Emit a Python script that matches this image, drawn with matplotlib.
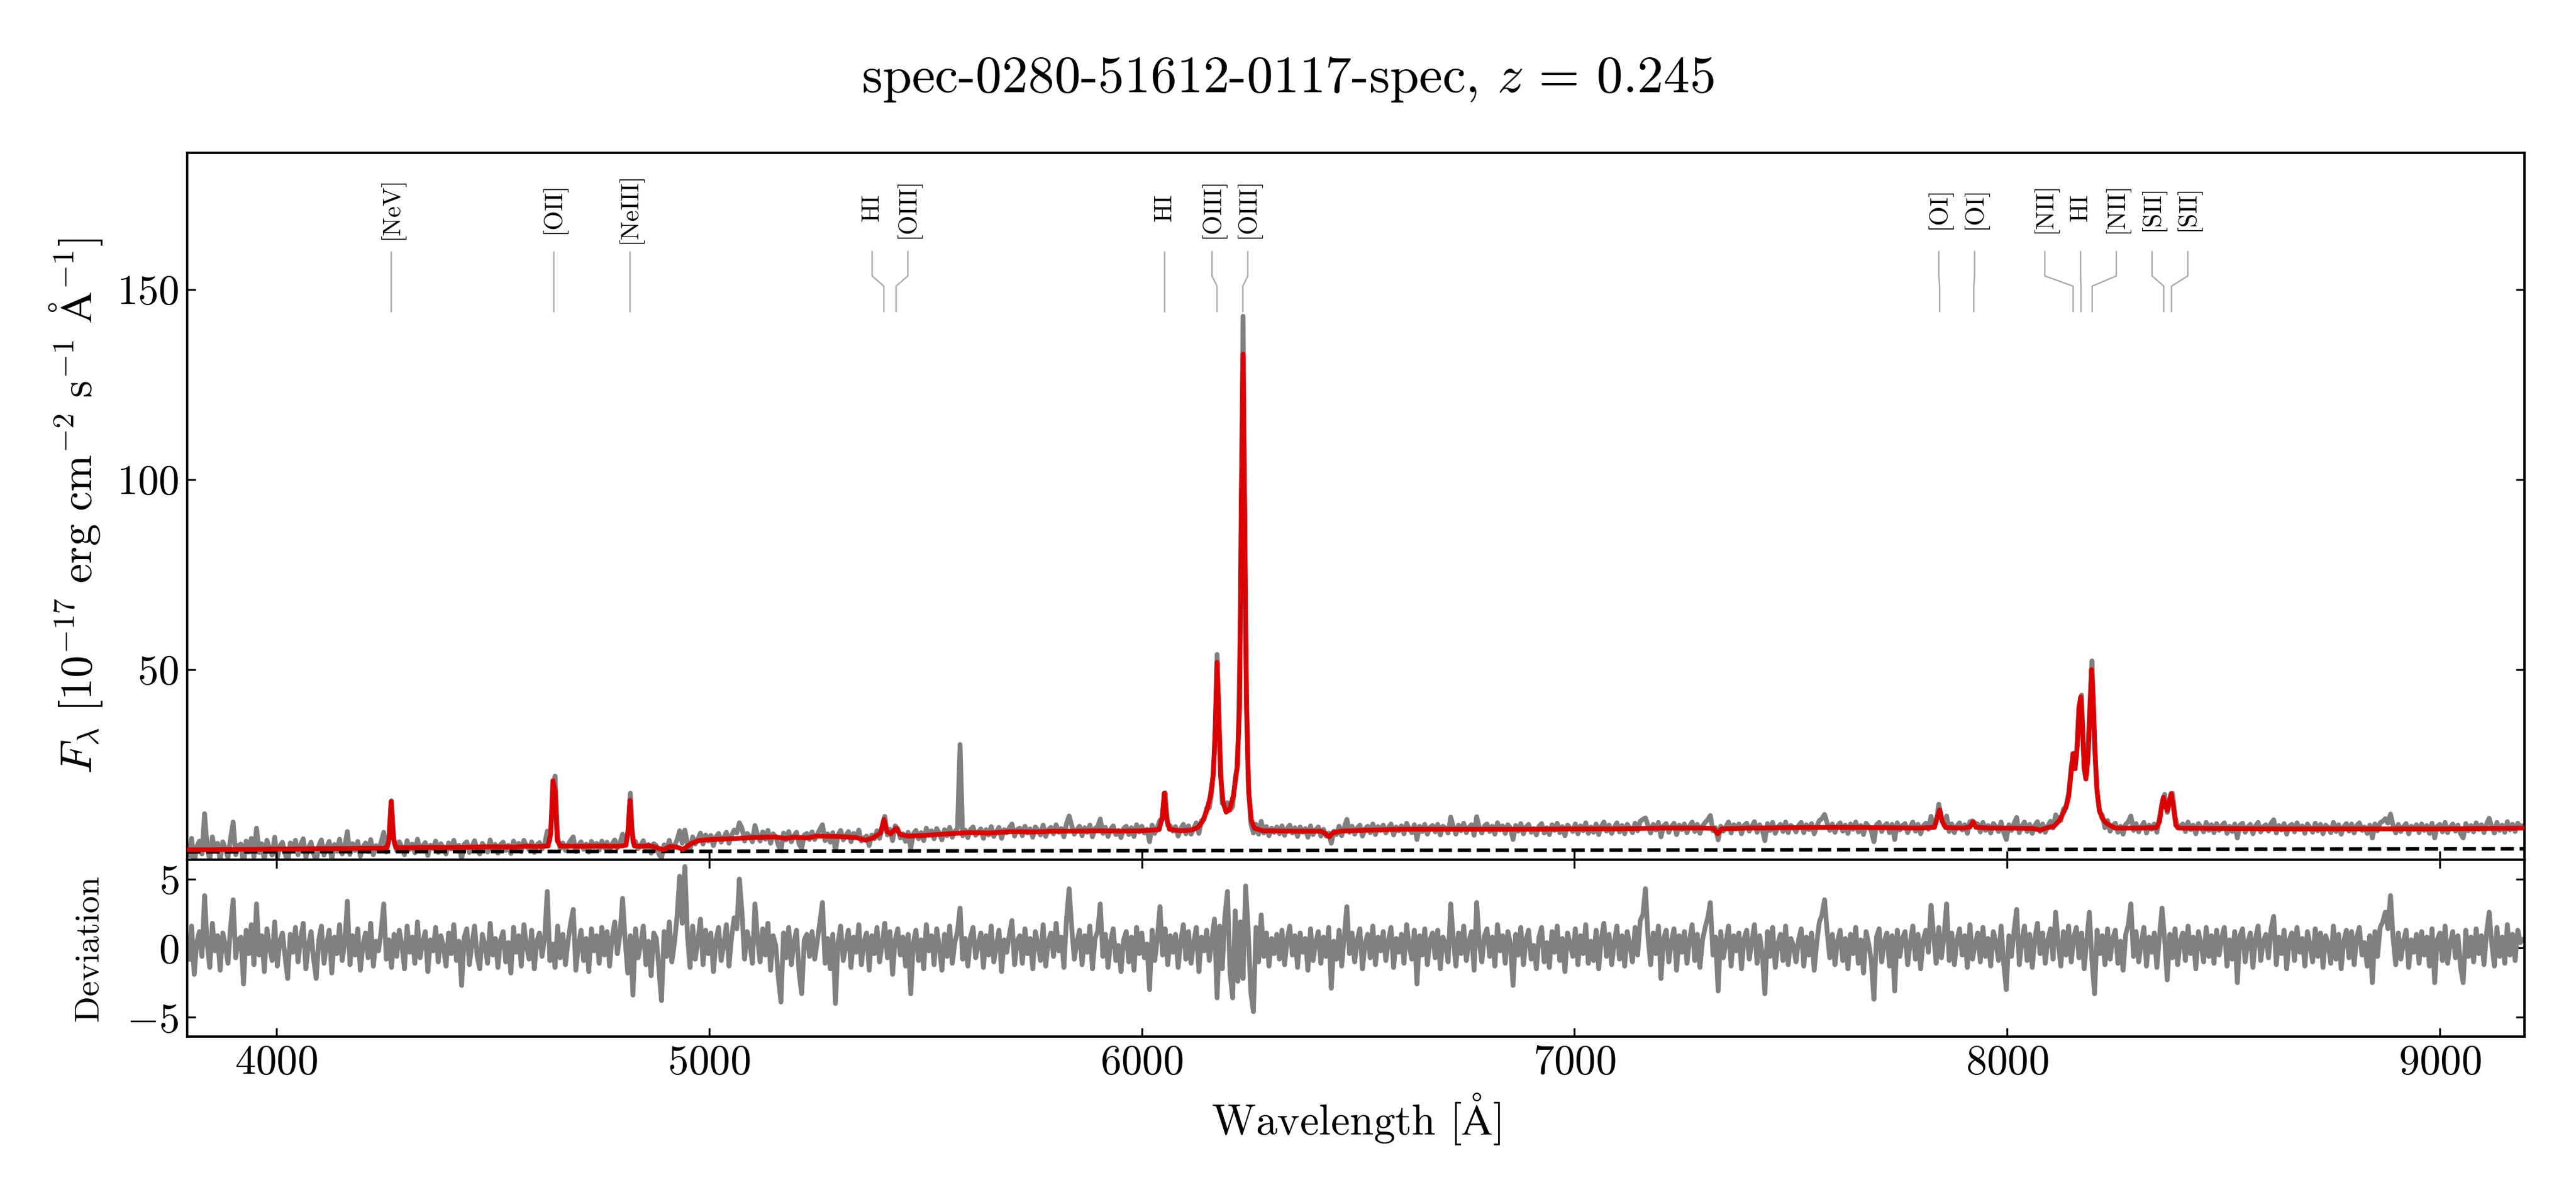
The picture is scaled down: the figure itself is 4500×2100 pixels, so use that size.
import numpy as np
import matplotlib
matplotlib.use("Agg")
import matplotlib.pyplot as plt

# ------------------------------------------------------------------ data
spec_name = "spec-0280-51612-0117-spec"
redshift = 0.245

# observed-frame wavelength grid of the binned spectrum [Angstrom]
wave_first, wave_last, wave_step = 3798, 9192, 6

# observed flux (grey), one row = 20 samples = 120 A
flux = [
    1.1, 5.6, -1.0, 3.4, 4.9, 1.5, 12.1, 3.2, -0.1, 6.0, 2.2, 4.3, -0.4, 4.7, 3.0, 0.5, 5.5, 9.9, 1.3, 3.7,
    4.1, -1.7, 4.9, 2.0, 5.6, 0.7, 8.3, 1.9, 4.2, -0.2, 5.1, 2.9, 1.2, 5.9, 0.5, 3.5, 4.6, 1.7, -1.0, 4.4,
    2.4, 5.1, 1.3, 3.9, 5.5, 0.6, 3.1, 4.6, 1.6, -0.5, 3.7, 5.2, 1.2, 3.3, 4.8, 0.1, 4.0, 2.2, 5.4, 1.5,
    3.5, 7.4, 1.4, 4.2, 2.4, 4.8, 0.9, 3.3, 4.4, 2.1, 5.3, 1.3, 3.7, 2.7, 4.6, 7.2, 2.0, 5.6, 15.5, 4.5,
    2.4, 4.7, 3.3, 1.3, 5.0, 2.7, 4.1, 1.8, 5.4, 2.3, 3.6, 4.5, 1.1, 3.8, 2.9, 4.9, 1.9, 4.2, 3.2, 1.5,
    4.4, 2.8, 5.1, 2.2, 3.8, 0.2, 4.1, 4.7, 1.9, 3.5, 5.0, 2.5, 1.5, 4.3, 3.4, 2.0, 5.2, 2.7, 4.0, 1.7,
    4.0, 4.6, 2.4, 3.8, 1.6, 4.9, 3.1, 4.3, 2.1, 5.1, 3.5, 2.6, 4.7, 1.9, 3.9, 4.5, 2.8, 4.2, 7.5, 5.0,
    13.0, 22.0, 6.0, 2.9, 4.4, 2.4, 4.0, 5.1, 6.0, 2.1, 3.7, 4.7, 2.7, 4.1, 2.0, 4.8, 3.3, 4.3, 2.5, 4.9,
    3.1, 4.6, 2.3, 4.2, 5.2, 3.1, 4.4, 6.7, 4.0, 6.5, 17.5, 4.5, 4.8, 2.9, 3.8, 5.0, 2.4, 4.0, 1.7, 4.2,
    3.7, 1.5, 0.3, 3.9, 2.8, 5.1, 2.5, 3.7, 5.2, 7.6, 4.3, 7.8, 4.2, 2.7, 6.0, 4.1, 5.4, 7.0, 4.1, 6.5,
    4.9, 6.4, 3.7, 6.0, 6.9, 4.6, 5.8, 7.2, 4.3, 6.4, 7.8, 7.0, 9.7, 8.3, 4.9, 6.9, 6.2, 4.7, 9.0, 6.5,
    4.9, 7.3, 5.4, 7.7, 4.3, 6.8, 6.1, 3.8, 2.3, 7.0, 5.2, 7.4, 4.7, 6.3, 7.2, 4.1, 2.9, 6.5, 6.9, 5.3,
    7.3, 5.3, 6.6, 8.0, 9.2, 5.0, 6.8, 4.6, 7.1, 2.4, 6.5, 7.7, 5.2, 6.3, 7.4, 4.7, 6.9, 5.8, 7.8, 4.9,
    5.7, 6.2, 3.7, 6.5, 5.5, 7.6, 5.6, 8.3, 11.4, 6.5, 8.0, 5.0, 8.9, 8.2, 5.7, 6.8, 4.8, 7.2, 3.0, 6.8,
    7.7, 5.5, 7.1, 5.0, 8.3, 6.4, 7.6, 5.5, 8.2, 6.9, 5.2, 7.9, 6.3, 8.5, 5.9, 7.4, 8.2, 30.3, 6.3, 7.8,
    5.8, 7.9, 8.6, 6.4, 7.3, 8.1, 5.6, 7.9, 6.5, 8.7, 6.1, 7.4, 8.5, 5.6, 7.9, 7.1, 8.4, 9.4, 6.2, 7.9,
    8.3, 6.3, 8.8, 7.0, 8.1, 5.9, 8.6, 7.7, 6.5, 9.1, 6.1, 7.9, 8.5, 6.8, 9.2, 7.2, 8.2, 6.0, 9.5, 11.5,
    9.0, 6.7, 7.9, 8.8, 6.3, 8.4, 7.2, 9.1, 6.0, 8.2, 8.7, 10.7, 6.9, 8.5, 6.1, 8.0, 8.9, 6.6, 7.7, 5.8,
    8.2, 8.8, 6.6, 8.4, 6.1, 9.2, 7.3, 8.8, 7.0, 8.0, 4.7, 9.1, 6.9, 8.5, 10.4, 10.6, 17.6, 9.0, 8.9, 7.5,
    8.7, 6.2, 8.1, 9.3, 6.8, 8.9, 6.7, 8.2, 9.7, 6.9, 10.3, 10.6, 13.6, 13.6, 18.0, 28.0, 54.0, 31.5, 14.8, 14.5,
    15.0, 13.0, 14.0, 21.5, 25.0, 64.0, 143.0, 58.0, 20.0, 9.5, 7.0, 9.3, 6.7, 10.1, 7.0, 8.7, 6.3, 8.3, 7.2, 8.6,
    6.8, 8.9, 6.4, 8.2, 9.1, 7.0, 8.4, 6.1, 8.6, 7.2, 8.2, 5.9, 8.9, 6.6, 7.9, 8.6, 6.2, 8.0, 6.2, 7.0,
    4.3, 7.5, 6.6, 8.8, 6.3, 8.5, 10.6, 7.2, 8.8, 6.7, 8.3, 9.1, 6.2, 8.1, 8.8, 7.1, 9.4, 6.6, 8.7, 7.7,
    9.1, 7.0, 8.4, 9.4, 6.5, 8.6, 7.6, 8.9, 6.8, 9.6, 8.1, 7.1, 9.2, 5.3, 8.8, 7.4, 9.3, 6.7, 8.5, 9.0,
    7.3, 9.3, 6.5, 8.8, 8.3, 7.0, 11.2, 8.6, 6.7, 9.1, 7.6, 9.6, 7.1, 8.5, 9.2, 6.4, 11.3, 8.4, 7.0, 8.9,
    9.4, 7.4, 8.8, 6.7, 9.7, 7.8, 8.9, 6.9, 9.2, 8.3, 5.3, 9.0, 7.5, 9.5, 6.8, 8.6, 9.3, 7.2, 8.2, 6.5,
    8.8, 9.5, 7.0, 8.4, 6.6, 9.2, 7.7, 9.6, 7.1, 8.7, 6.3, 9.1, 8.3, 7.4, 9.4, 6.8, 8.9, 7.6, 9.7, 6.9,
    8.6, 7.2, 9.4, 6.6, 8.8, 9.9, 7.5, 9.1, 6.9, 8.5, 9.7, 7.3, 9.0, 6.8, 9.3, 8.3, 7.1, 9.6, 7.6, 10.1,
    10.6, 11.0, 9.0, 7.0, 9.3, 7.8, 9.8, 6.0, 8.9, 9.5, 7.2, 8.7, 9.6, 6.6, 9.1, 7.9, 9.4, 7.1, 8.8, 9.9,
    7.4, 9.3, 6.9, 8.9, 9.8, 10.5, 11.6, 7.6, 8.4, 5.2, 8.8, 7.5, 8.7, 9.9, 7.0, 9.2, 8.1, 9.4, 6.8, 9.0,
    9.6, 7.5, 8.8, 10.0, 7.2, 9.2, 7.9, 5.0, 9.5, 7.7, 9.8, 6.9, 8.6, 9.3, 7.4, 9.9, 7.1, 9.0, 8.5, 7.3,
    9.0, 9.8, 7.1, 9.2, 7.9, 9.5, 6.8, 8.8, 10.3, 10.8, 11.9, 9.6, 7.7, 9.4, 7.2, 8.9, 9.7, 7.5, 9.1, 6.9,
    9.4, 8.0, 9.9, 7.3, 9.0, 6.6, 9.6, 8.7, 7.5, 4.7, 9.2, 9.8, 7.4, 8.9, 9.5, 7.1, 9.3, 5.3, 9.7, 7.8,
    9.0, 9.5, 7.1, 8.7, 9.9, 7.5, 9.3, 6.8, 8.9, 9.6, 8.0, 11.4, 9.2, 9.8, 14.6, 11.2, 9.1, 11.5, 7.4, 9.4,
    7.1, 8.9, 9.7, 7.8, 9.2, 6.9, 10.0, 10.2, 9.6, 9.4, 7.3, 9.8, 7.7, 9.0, 7.0, 9.5, 8.7, 7.4, 9.9, 7.2,
    5.3, 9.2, 7.7, 9.6, 11.1, 7.1, 8.8, 9.9, 7.4, 9.3, 6.9, 9.0, 10.0, 7.4, 9.4, 7.2, 8.9, 10.1, 8.3, 11.8,
    10.8, 10.3, 13.3, 14.0, 17.5, 24.5, 28.0, 27.0, 40.0, 43.3, 24.0, 22.5, 38.0, 52.3, 31.0, 17.5, 12.5, 11.7, 8.4, 10.3,
    7.5, 9.0, 9.6, 7.2, 8.8, 6.7, 9.3, 10.0, 11.5, 7.7, 9.5, 7.3, 8.7, 9.8, 7.0, 9.1, 8.0, 9.4, 7.2, 11.0,
    14.8, 17.2, 12.4, 15.5, 17.5, 11.5, 8.3, 8.8, 9.4, 7.4, 9.9, 7.9, 9.1, 6.8, 9.5, 8.6, 7.3, 9.8, 7.7, 9.2,
    7.1, 9.5, 7.7, 9.0, 9.7, 6.9, 8.8, 7.4, 9.4, 5.7, 9.1, 9.6, 7.2, 8.6, 9.3, 6.8, 8.9, 9.8, 7.3, 8.7,
    9.2, 7.5, 9.6, 10.5, 7.0, 9.0, 7.8, 9.5, 6.7, 8.8, 9.3, 7.3, 9.7, 7.9, 8.9, 6.9, 9.4, 8.4, 7.2, 9.6,
    7.6, 9.3, 6.8, 9.1, 8.5, 7.1, 9.8, 7.4, 9.2, 6.7, 8.7, 9.5, 7.5, 9.4, 7.0, 9.0, 9.7, 7.7, 8.6, 6.9,
    9.1, 5.7, 9.4, 7.6, 9.7, 10.1, 10.8, 9.6, 12.0, 8.9, 7.0, 9.3, 7.4, 8.7, 9.5, 6.8, 8.8, 7.9, 9.2, 7.1,
    9.4, 7.7, 9.0, 6.9, 9.6, 5.7, 8.8, 9.3, 7.3, 9.8, 7.1, 8.6, 9.4, 7.5, 9.1, 6.8, 5.7, 9.5, 7.6, 9.0,
    7.3, 9.7, 7.9, 9.2, 7.1, 9.4, 10.9, 8.6, 7.0, 9.8, 7.7, 9.1, 7.2, 10.0, 7.8, 9.3, 7.4, 9.6, 8.7, 8.9,
]

# normalised deviation (data - model) / error on the same grid
deviation = [
    -0.8, 1.6, -1.9, 0.4, 1.2, -0.6, 3.8, 0.3, -1.4, 1.8, -0.2, 0.9, -1.6, 1.1, 0.2, -1.1, 1.5, 3.5, -0.7, 0.6,
    0.8, -2.6, 1.3, -0.4, 1.7, -1.2, 3.2, -0.5, 0.9, -1.7, 1.4, 0.1, -0.9, 1.9, -1.3, 0.5, 1.1, -0.6, -2.2, 1.0,
    -0.3, 1.5, -1.0, 0.7, 1.8, -1.5, 0.2, 1.2, -0.8, -2.2, 0.6, 1.6, -1.1, 0.3, 1.3, -1.8, 0.8, -0.4, 1.7, -0.9,
    0.4, 3.4, -1.2, 0.9, -0.5, 1.4, -1.6, 0.2, 1.1, -0.7, 1.8, -1.3, 0.5, -0.2, 1.2, 3.2, -0.8, 0.6, -1.4, 1.0,
    -0.6, 1.3, 0.2, -1.5, 1.6, -0.3, 0.8, -1.1, 1.9, -0.7, 0.4, 1.2, -1.7, 0.6, -0.2, 1.5, -1.0, 0.9, 0.1, -1.3,
    1.1, -0.4, 1.7, -0.9, 0.5, -2.7, 0.8, 1.4, -1.2, 0.3, 1.6, -0.6, -1.5, 1.0, 0.2, -1.1, 1.8, -0.5, 0.7, -1.4,
    0.6, 1.2, -1.0, 0.4, -1.8, 1.5, -0.3, 0.9, -1.3, 1.7, 0.1, -0.8, 1.3, -1.5, 0.5, 1.1, -0.6, 0.8, 4.1, -0.9,
    0.3, -1.4, 1.6, -0.7, 1.0, -1.2, 0.5, 1.8, 2.8, -1.6, 0.2, 1.3, -0.9, 0.7, -1.7, 1.4, -0.2, 0.9, -1.1, 1.5,
    -0.5, 1.2, -1.3, 0.8, 1.9, -0.4, 1.0, 3.6, 0.6, -1.8, 0.9, -3.4, 1.4, -0.7, 0.3, 1.6, -1.2, 0.5, -2.0, 1.1,
    0.7, -1.5, -3.8, 1.2, -0.6, 1.9, -1.0, 0.4, 2.3, 5.2, 1.8, 5.9, 0.9, -1.4, 1.6, -0.8, 0.5, 2.1, -1.2, 1.3,
    -0.4, 1.1, -1.7, 0.6, 1.5, -0.9, 0.3, 1.7, -1.3, 0.8, 2.2, 1.4, 5.0, 2.6, -0.8, 1.2, 0.4, -1.1, 3.2, 0.7,
    -1.0, 1.4, -0.5, 1.8, -1.6, 0.9, 0.2, -2.1, -3.9, 1.1, -0.7, 1.5, -1.2, 0.4, 1.3, -1.8, -3.3, 0.6, 1.0, -0.6,
    1.2, -0.8, 0.5, 1.9, 3.3, -1.1, 0.7, -1.5, 1.0, -4.0, 0.4, 1.6, -0.9, 0.2, 1.3, -1.4, 0.8, -0.3, 1.7, -1.2,
    0.5, 1.1, -1.6, 0.9, -0.4, 1.5, -1.0, 0.3, 1.8, -0.7, 1.2, -1.9, 0.6, 1.4, -0.5, 0.8, -1.3, 1.0, -3.3, 0.4,
    1.3, -0.9, 0.6, -1.5, 1.7, -0.2, 0.9, -1.2, 1.4, 0.1, -1.6, 1.0, -0.6, 1.6, -1.1, 0.4, 1.2, 2.9, -0.8, 0.7,
    -1.3, 0.8, 1.5, -0.7, 0.3, 1.1, -1.4, 0.9, -0.5, 1.6, -1.0, 0.2, 1.3, -1.7, 0.6, -0.3, 1.0, 2.0, -1.2, 0.5,
    0.9, -1.1, 1.4, -0.4, 0.7, -1.5, 1.2, 0.3, -0.9, 1.7, -1.3, 0.5, 1.1, -0.6, 1.8, -0.2, 0.8, -1.4, 2.1, 4.3,
    1.5, -0.8, 0.4, 1.3, -1.2, 0.9, -0.3, 1.6, -1.5, 0.7, 1.2, 3.2, -0.6, 1.0, -1.4, 0.5, 1.4, -0.9, 0.2, -1.7,
    0.6, 1.2, -1.0, 0.8, -1.6, 1.5, -0.4, 1.1, -0.7, 0.3, -3.0, 1.3, -0.9, 0.7, 3.0, -0.5, 1.4, -1.2, 0.9, -0.3,
    1.0, -1.4, 0.5, 1.7, -0.8, 1.2, -1.1, 0.4, 1.5, -1.7, 0.8, -0.2, 1.3, -0.9, 0.6, 2.1, -3.6, 1.6, -1.5, 2.3,
    4.1, -1.8, -3.6, 2.7, -2.4, 1.9, -2.2, 4.5, 1.2, -3.2, -4.6, 1.5, -1.0, 2.4, -0.6, 1.1, -1.3, 0.7, -0.4, 1.0,
    -0.8, 1.3, -1.2, 0.6, 1.6, -0.5, 0.9, -1.4, 1.1, -0.3, 0.7, -1.6, 1.4, -0.9, 0.4, 1.2, -1.1, 0.8, -0.6, 1.5,
    -2.9, 0.5, -0.8, 1.3, -1.3, 0.9, 3.0, -0.4, 1.1, -1.0, 0.6, 1.4, -1.5, 0.3, 1.0, -0.7, 1.6, -1.2, 0.8, -0.2,
    1.2, -0.9, 0.5, 1.5, -1.4, 0.7, -0.3, 1.0, -1.1, 1.7, 0.2, -0.8, 1.3, -2.6, 0.9, -0.5, 1.4, -1.2, 0.6, 1.1,
    -0.7, 1.3, -1.5, 0.8, 0.3, -1.0, 3.2, 0.6, -1.3, 1.1, -0.4, 1.6, -0.9, 0.5, 1.2, -1.6, 3.3, 0.4, -1.0, 0.9,
    1.4, -0.6, 0.8, -1.3, 1.7, -0.2, 0.9, -1.1, 1.2, 0.3, -2.7, 1.0, -0.5, 1.5, -1.2, 0.6, 1.3, -0.8, 0.2, -1.5,
    0.8, 1.5, -1.0, 0.4, -1.4, 1.2, -0.3, 1.6, -0.9, 0.7, -1.7, 1.1, 0.3, -0.6, 1.4, -1.2, 0.9, -0.4, 1.7, -1.1,
    0.5, -0.9, 1.3, -1.5, 0.7, 1.8, -0.6, 1.0, -1.2, 0.4, 1.6, -0.8, 0.9, -1.3, 1.2, 0.2, -1.0, 1.5, -0.5, 2.0,
    2.4, 4.3, 0.8, -1.2, 1.1, -0.4, 1.6, -2.2, 0.7, 1.3, -1.0, 0.5, 1.4, -1.6, 0.9, -0.3, 1.2, -1.1, 0.6, 1.7,
    -0.9, 1.0, -1.4, 0.6, 1.5, 2.2, 3.3, -0.5, 0.8, -3.1, 1.2, -0.7, 0.4, 1.6, -1.3, 0.9, -0.2, 1.1, -1.5, 0.7,
    1.3, -0.8, 0.5, 1.7, -1.1, 0.9, -0.4, -3.3, 1.2, -0.6, 1.5, -1.4, 0.3, 1.0, -0.9, 1.6, -1.2, 0.7, 0.2, -1.0,
    0.6, 1.4, -1.3, 0.8, -0.5, 1.1, -1.6, 0.4, 1.9, 2.4, 3.5, 1.2, -0.7, 1.0, -1.2, 0.5, 1.3, -0.9, 0.7, -1.5,
    1.0, -0.4, 1.5, -1.1, 0.6, -1.8, 1.2, 0.3, -0.9, -3.7, 0.8, 1.4, -1.0, 0.5, 1.1, -1.3, 0.9, -3.1, 1.3, -0.6,
    0.7, 1.2, -1.2, 0.4, 1.6, -0.8, 1.0, -1.5, 0.6, 1.3, -0.3, 3.1, 0.9, -1.1, 1.5, -0.7, 0.8, 3.2, -0.9, 1.1,
    -1.2, 0.6, 1.4, -0.5, 0.9, -1.4, 1.7, -0.8, 0.3, 1.1, -1.0, 1.5, -0.6, 0.7, -1.3, 1.2, 0.4, -0.9, 1.6, -1.1,
    -3.0, 0.9, -0.6, 1.3, 2.8, -1.2, 0.5, 1.6, -0.9, 1.0, -1.4, 0.7, 1.8, -0.4, 1.1, -1.1, 0.6, 1.4, -0.8, 2.6,
    0.4, -1.3, 1.2, -0.5, 1.6, -1.0, 0.8, 1.5, -0.7, 1.1, -1.5, 0.6, 2.6, -0.9, -3.3, 1.3, -0.4, 0.9, -1.2, 1.4,
    -0.8, 0.7, 1.3, -1.1, 0.5, -1.6, 1.0, 1.7, 3.2, -0.6, 1.2, -1.0, 0.4, 1.5, -1.3, 0.8, -0.3, 1.1, -1.4, 0.9,
    2.9, 0.6, -2.3, 1.0, -0.7, 1.4, -1.2, 0.5, 1.1, -0.9, 1.6, -0.4, 0.8, -1.5, 1.2, 0.3, -1.0, 1.5, -0.6, 0.9,
    -1.1, 1.3, -0.5, 0.8, 1.5, -1.3, 0.6, -0.8, 1.2, -2.5, 0.9, 1.4, -1.0, 0.4, 1.1, -1.4, 0.7, 1.6, -0.9, 0.5,
    1.0, -0.7, 1.4, 2.3, -1.2, 0.8, -0.4, 1.3, -1.5, 0.6, 1.1, -0.9, 1.5, -0.3, 0.7, -1.3, 1.2, 0.2, -1.0, 1.4,
    -0.6, 1.1, -1.4, 0.9, 0.3, -1.1, 1.6, -0.8, 1.0, -1.5, 0.5, 1.3, -0.7, 1.2, -1.2, 0.8, 1.5, -0.5, 0.4, -1.3,
    0.9, -2.5, 1.2, -0.6, 1.5, 1.9, 2.6, 1.4, 3.8, 0.7, -1.2, 1.1, -0.8, 0.5, 1.3, -1.4, 0.6, -0.3, 1.0, -1.1,
    1.2, -0.5, 0.8, -1.3, 1.4, -2.5, 0.6, 1.1, -0.9, 1.6, -1.1, 0.4, 1.2, -0.7, 0.9, -1.4, -2.5, 1.3, -0.6, 0.8,
    -1.0, 1.4, -0.4, 0.9, -1.2, 1.1, 2.6, 0.3, -1.3, 1.5, -0.6, 0.8, -1.1, 1.7, -0.5, 1.0, -0.9, 1.3, 0.4, 0.6,
]

# best-fit model (red), sampled at the wavelengths below
model_wave = [
    3794, 3850, 3900, 3950, 4000, 4050, 4100, 4150, 4200, 4240, 4255, 4260, 4265, 4270, 4276,
    4300, 4350, 4400, 4450, 4500, 4550, 4580, 4600, 4628, 4634, 4639, 4644, 4649, 4656, 4700,
    4750, 4790, 4808, 4813, 4817, 4821, 4827, 4845, 4862, 4880, 4895, 4910, 4925, 4940, 4958,
    4975, 5000, 5050, 5100, 5150, 5175, 5200, 5225, 5250, 5300, 5340, 5362, 5380, 5396, 5404,
    5411, 5420, 5432, 5442, 5460, 5500, 5550, 5600, 5650, 5700, 5750, 5800, 5850, 5900, 5950,
    6000, 6040, 6047, 6052, 6057, 6064, 6090, 6115, 6130, 6140, 6150, 6158, 6165, 6170, 6174,
    6178, 6182, 6188, 6195, 6203, 6212, 6220, 6226, 6230, 6234, 6238, 6242, 6247, 6253, 6260,
    6280, 6350, 6415, 6425, 6433, 6442, 6460, 6500, 6600, 6700, 6800, 6900, 7000, 7100, 7200,
    7300, 7322, 7331, 7340, 7400, 7500, 7600, 7700, 7800, 7832, 7838, 7844, 7850, 7858, 7900,
    7914, 7921, 7928, 7960, 8000, 8060, 8076, 8090, 8108, 8120, 8128, 8136, 8142, 8147, 8152,
    8157, 8162, 8166, 8170, 8174, 8178, 8182, 8187, 8191, 8195, 8199, 8203, 8207, 8213, 8220,
    8229, 8249, 8300, 8345, 8352, 8357, 8361, 8366, 8370, 8374, 8379, 8384, 8390, 8397, 8500,
    8600, 8700, 8800, 8900, 9000, 9100, 9195,
]
model_flux = [
    2.6, 2.6, 2.7, 2.7, 2.8, 2.8, 2.9, 2.9, 3.0, 3.0, 3.1, 5.0, 15.3, 6.0, 3.2,
    3.1, 3.2, 3.2, 3.3, 3.4, 3.3, 3.6, 3.4, 3.6, 7.0, 20.8, 18.0, 5.0, 3.6, 3.5,
    3.6, 3.5, 3.8, 8.0, 15.6, 8.0, 3.6, 3.5, 3.7, 3.1, 2.6, 3.5, 3.3, 2.7, 4.2,
    5.0, 5.3, 5.5, 5.8, 6.0, 5.6, 5.9, 5.7, 6.2, 6.1, 5.8, 5.1, 5.8, 7.0, 10.6,
    7.4, 6.8, 8.3, 6.6, 6.2, 6.4, 6.8, 7.1, 7.0, 7.4, 7.3, 7.5, 7.5, 7.6, 7.5,
    7.6, 7.9, 11.0, 17.5, 11.0, 8.0, 7.6, 7.8, 8.5, 10.0, 12.8, 16.5, 22.0, 35.0, 51.9,
    38.0, 22.0, 15.0, 12.5, 13.2, 17.0, 24.0, 40.0, 95.0, 133.0, 90.0, 40.0, 18.0, 10.5, 8.3,
    7.6, 7.5, 7.5, 6.8, 6.0, 7.1, 7.5, 7.7, 8.0, 8.0, 8.0, 8.0, 8.1, 8.1, 8.3,
    8.3, 8.2, 6.8, 8.1, 8.3, 8.4, 8.5, 8.4, 8.3, 8.5, 11.0, 13.1, 10.0, 8.4, 8.3,
    8.6, 9.9, 8.5, 8.3, 8.3, 8.2, 7.8, 8.3, 8.8, 10.2, 11.9, 13.8, 16.5, 22.0, 27.9,
    23.9, 30.0, 40.0, 42.8, 35.0, 24.0, 21.2, 27.0, 38.0, 50.0, 42.0, 28.0, 19.0, 13.0, 10.8,
    9.6, 8.3, 8.3, 8.4, 10.0, 14.0, 16.4, 14.0, 12.9, 15.0, 17.4, 14.0, 9.0, 8.3, 8.2,
    8.1, 8.1, 8.1, 8.1, 8.1, 8.2, 8.3,
]

# continuum component (black dashed)
cont_wave = [3794, 4500, 5000, 5500, 6000, 6500, 7000, 7500, 8000, 8500, 9195]
cont_flux = [2.05, 2.15, 2.2, 2.3, 2.35, 2.45, 2.5, 2.6, 2.7, 2.75, 2.85]

# identified emission lines (rest-frame air wavelengths, Angstrom)
line_names = ["[NeV]", "[OII]", "[NeIII]", "HI", "[OIII]", "HI", "[OIII]", "[OIII]",
              "[OI]", "[OI]", "[NII]", "HI", "[NII]", "[SII]", "[SII]"]
line_rest = [3425.9, 3727.4, 3868.8, 4340.5, 4363.2, 4861.3, 4958.9, 5006.8,
             6300.3, 6363.8, 6548.1, 6562.8, 6583.5, 6716.4, 6730.8]

x_ticks = [4000, 5000, 6000, 7000, 8000, 9000]
flux_ticks = [50, 100, 150]
dev_ticks = [-5, 0, 5]

# ------------------------------------------------------------------ style
plt.rcParams.update({
    "font.family": "serif",
    "font.serif": ["cmr10"],
    "mathtext.fontset": "cm",
    "axes.formatter.use_mathtext": True,
    "axes.unicode_minus": True,
    "axes.linewidth": 1.0,
})

wave = np.arange(wave_first, wave_last + 1, wave_step)
assert len(wave) == len(flux) == len(deviation), (len(wave), len(flux), len(deviation))

xmin, xmax = 3794, 9195

fig = plt.figure(figsize=(15, 7), dpi=300)
ax1 = fig.add_axes([0.0727, 0.2848, 0.9072, 0.5881])
ax2 = fig.add_axes([0.0727, 0.1376, 0.9072, 0.1472], sharex=ax1)

grey = "#808080"
red = "#dc0000"

ax1.plot(wave, flux, color=grey, lw=2.0, zorder=1)
ax1.plot(cont_wave, cont_flux, color="black", ls="--", lw=1.5, zorder=2)
ax1.plot(model_wave, model_flux, color=red, lw=2.0, zorder=3)

ax2.plot(wave, deviation, color=grey, lw=2.0)

ax1.set_xlim(xmin, xmax)
ax1.set_ylim(0, 186)
ax2.set_ylim(-6.4, 6.4)
ax1.set_yticks(flux_ticks)
ax2.set_yticks(dev_ticks)
ax2.set_xticks(x_ticks)

ax1.tick_params(direction="in", left=True, right=True, top=False, bottom=True,
                labelbottom=False, labelsize=17.5)
ax2.tick_params(direction="in", left=True, right=True, top=True, bottom=True,
                labelsize=17.5)

ax1.set_ylabel(r"$F_\lambda\ [10^{-17}\ \mathrm{erg\ cm^{-2}\ s^{-1}\ \AA^{-1}}]$",
               fontsize=18.5)
ax2.set_ylabel("Deviation", fontsize=14.5)
ax1.yaxis.set_label_coords(-0.0355, 0.5)
ax2.yaxis.set_label_coords(-0.0355, 0.5)
ax2.set_xlabel(r"Wavelength [$\mathrm{\AA}$]", fontsize=18)

fig.suptitle(spec_name + r", $z\,=\,0.245$", fontsize=22, y=0.934, va="center")

# ---- line identification labels (spread out to avoid overlaps)
obs = np.array(line_rest) * (1 + redshift)
order = np.argsort(obs)
obs_sorted = obs[order]
sep = 0.0153 * (xmax - xmin)
groups = [[i] for i in range(len(obs_sorted))]


def label_pos(groups):
    out = []
    for g in groups:
        c = obs_sorted[g].mean()
        m = len(g)
        out.append(c + (np.arange(m) - (m - 1) / 2.0) * sep)
    return out


changed = True
while changed:
    changed = False
    pos = label_pos(groups)
    for k in range(len(groups) - 1):
        if pos[k + 1][0] - pos[k][-1] < sep - 1e-9:
            groups[k] = groups[k] + groups[k + 1]
            del groups[k + 1]
            changed = True
            break
pos = label_pos(groups)
label_x = np.concatenate(pos)

trans = ax1.get_xaxis_transform()
y_text, y_top, y_k1, y_k2, y_bot = 0.9223, 0.8601, 0.8258, 0.8113, 0.7755
for j, idx in enumerate(order):
    lx = label_x[j]
    ox = obs_sorted[j]
    ax1.text(lx, y_text, line_names[idx], transform=trans, rotation=90,
             ha="center", va="center", fontsize=10.5)
    ax1.plot([lx, lx, ox, ox], [y_top, y_k1, y_k2, y_bot], transform=trans,
             color="#aaaaaa", lw=0.6, zorder=0)

fig.savefig("out.png", dpi=300)
